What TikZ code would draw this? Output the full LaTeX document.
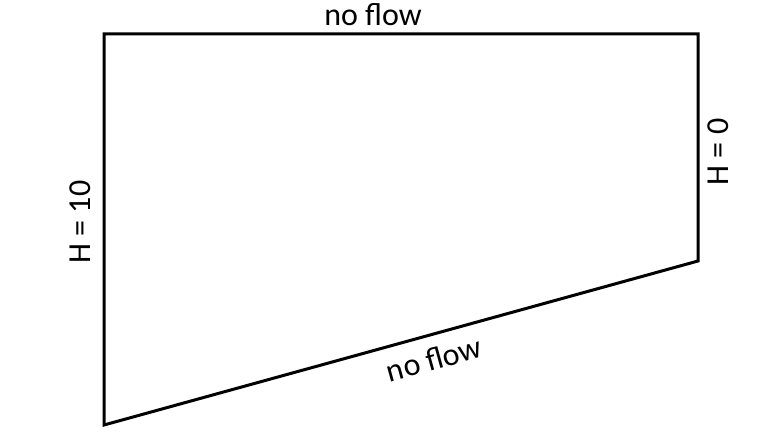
\documentclass[tikz,border=0pt]{standalone}
\usepackage{fontspec}
\setmainfont{Carlito}
\begin{document}
\begin{tikzpicture}[x=1pt,y=-1pt,lbl/.style={font=\fontsize{32}{36}\selectfont,inner sep=0pt}]
\useasboundingbox (0,0) rectangle (757,438);
\coordinate (a) at (104,34);
\coordinate (b) at (698,34);
\coordinate (c) at (698,261);
\coordinate (d) at (104,425);
\draw[line width=3pt,line join=miter] (a) -- (b) -- (c) -- (d) -- cycle;
\node[lbl] (t) at (373,15) {no flow};
\node[lbl,rotate=15.4] (bt) at (434,359) {no flow};
\node[lbl,rotate=90] (l) at (80,222) {H = 10};
\node[lbl,rotate=90] (r) at (718,152) {H = 0};
\end{tikzpicture}
\end{document}
